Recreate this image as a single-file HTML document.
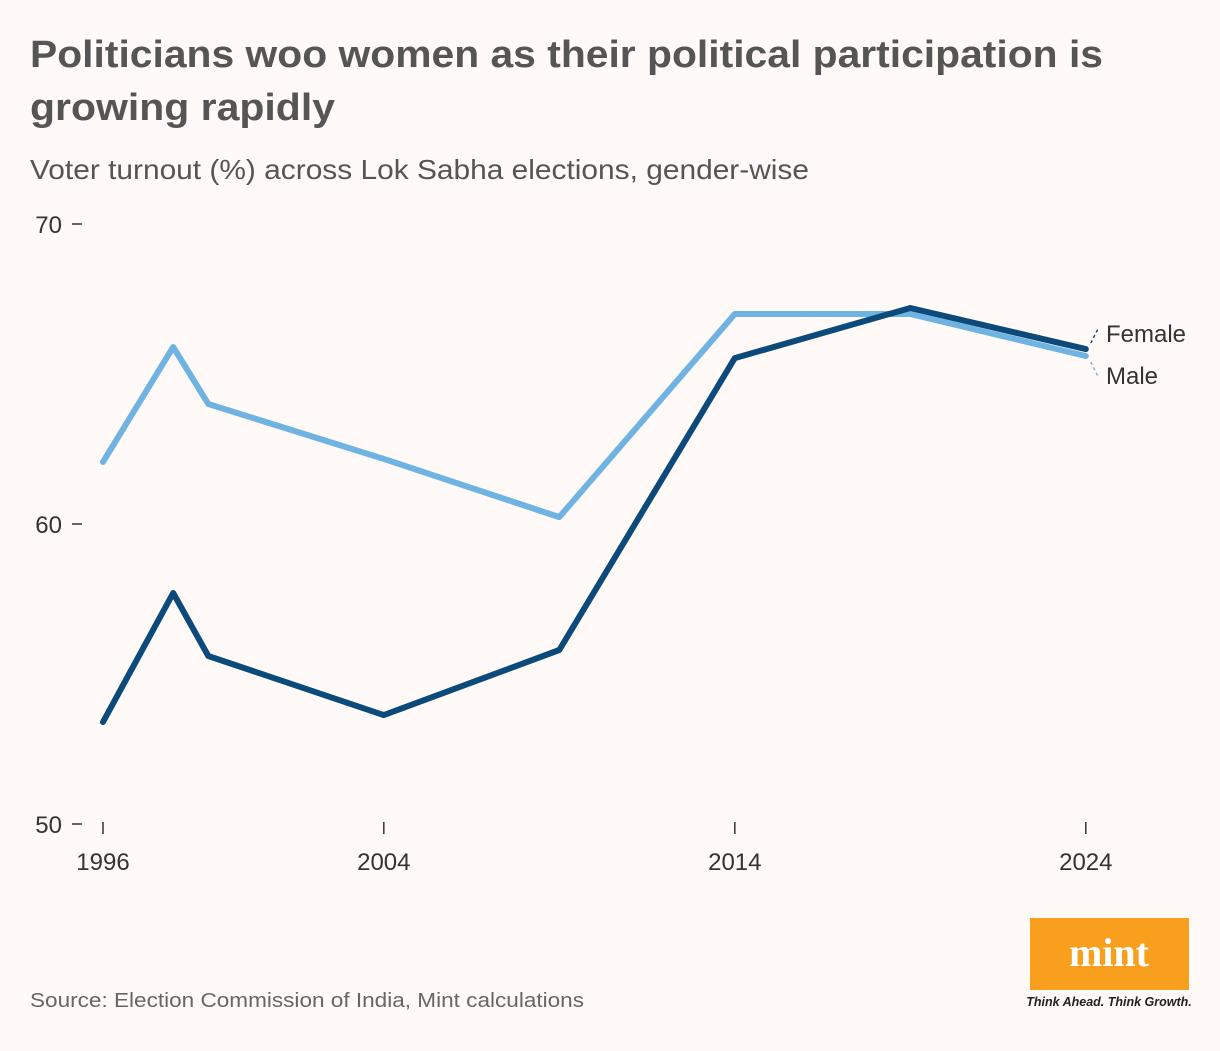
<!DOCTYPE html>
<html><head><meta charset="utf-8"><style>
body{margin:0;background:#fff9f8;width:1220px;height:1046px;overflow:hidden;font-family:"Liberation Sans",sans-serif;}
</style></head><body>
<svg width="1220" height="1046" xmlns="http://www.w3.org/2000/svg" id="svg">
<rect width="1220" height="1046" fill="#fff9f8"/>
<text x="30" y="67" font-size="38" font-weight="bold" fill="#555" textLength="1073" lengthAdjust="spacingAndGlyphs">Politicians woo women as their political participation is</text>
<text x="30" y="120" font-size="38" font-weight="bold" fill="#555" textLength="305" lengthAdjust="spacingAndGlyphs">growing rapidly</text>
<text x="30" y="179" font-size="28" fill="#555" textLength="779" lengthAdjust="spacingAndGlyphs">Voter turnout (%) across Lok Sabha elections, gender-wise</text>
<g id="axes"></g>
<g id="lines"></g>
<text x="30" y="1007" font-size="20" fill="#666" textLength="554" lengthAdjust="spacingAndGlyphs">Source: Election Commission of India, Mint calculations</text>
<rect x="1030" y="918" width="159" height="72" fill="#f8a01e"/>
<text x="1109" y="966" font-size="40" font-weight="bold" font-family="Liberation Serif,serif" fill="#fff" text-anchor="middle">mint</text>
<text x="1109" y="1006" font-size="12.5" font-style="italic" font-weight="bold" fill="#222" text-anchor="middle">Think Ahead. Think Growth.</text>
</svg>
<script>
const years=[1996,1998,1999,2004,2009,2014,2019,2024];
const male=[62.07,65.9,64.0,62.17,60.23,67.0,67.0,65.6];
const female=[53.4,57.7,55.6,53.63,55.8,65.53,67.2,65.83];
const yTicks=[50,60,70];
const xTicks=[1996,2004,2014,2024];
const NS="http://www.w3.org/2000/svg";
const x=v=>103+(v-1996)*35.1;
const y=v=>824-(v-50)*30;
function mk(t,a,p){const e=document.createElementNS(NS,t);for(const k in a)e.setAttribute(k,a[k]);p.appendChild(e);return e;}
const ax=document.getElementById('axes'),ln=document.getElementById('lines');
yTicks.forEach(v=>{
 const t=mk('text',{x:62,y:y(v)+9,'font-size':24,fill:'#333','text-anchor':'end'},ax);t.textContent=v;
 
 
 const l=mk('line',{x1:72,x2:82,y1:y(v),y2:y(v),stroke:'#333','stroke-width':1.5},ax);
 
 
});
xTicks.forEach(v=>{
 const l=mk('line',{x1:x(v),x2:x(v),y1:822,y2:834,stroke:'#333','stroke-width':1.5},ax);
 
 
 const t=mk('text',{x:x(v),y:870,'font-size':24,fill:'#333','text-anchor':'middle'},ax);t.textContent=v;
 
 
});
function line(d,c,n){const p=mk('polyline',{points:d.map((v,i)=>x(years[i])+','+y(v)).join(' '),fill:'none',stroke:c,'stroke-width':6,'stroke-linejoin':'round','stroke-linecap':'round'},ln);
 
 }
line(male,'#6fb3e3','male-line');
line(female,'#0b4a7a','female-line');
const ex=x(2024);
const fd=mk('line',{x1:ex+5,y1:y(female[7])-6,x2:ex+12,y2:y(female[7])-20,stroke:'#0b4a7a','stroke-width':1.5,'stroke-dasharray':'3,3'},ln);


const md=mk('line',{x1:ex+5,y1:y(male[7])+6,x2:ex+12,y2:y(male[7])+20,stroke:'#6fb3e3','stroke-width':1.5,'stroke-dasharray':'3,3'},ln);


const fl=mk('text',{x:1106,y:342,'font-size':24,fill:'#333'},ln);fl.textContent='Female';


const ml=mk('text',{x:1106,y:384,'font-size':24,fill:'#333'},ln);ml.textContent='Male';


</script>
</body></html>
